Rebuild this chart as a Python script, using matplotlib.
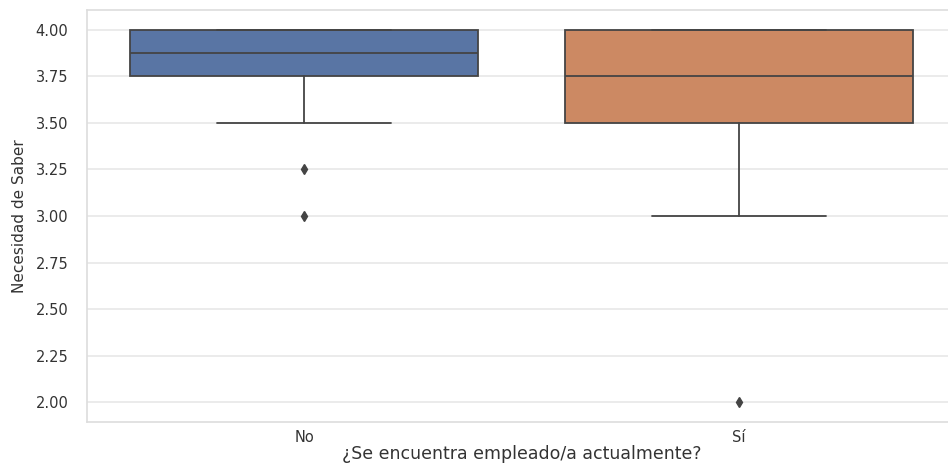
import matplotlib
matplotlib.use("Agg")
import matplotlib.pyplot as plt
import seaborn as sns

# resumen de cuartiles por grupo
grupos = ["No", "Sí"]
q1 = [3.75, 3.5]
mediana = [3.875, 3.75]
q3 = [4.0, 4.0]
bigote_inf = [3.5, 3.0]
bigote_sup = [4.0, 4.0]
atipicos = [[3.25, 3.0], [2.0]]

colores = ["#5975a4", "#cc8963"]

sns.set_style("whitegrid")
plt.rcParams["font.family"] = ["DejaVu Sans"]

fig = plt.figure(figsize=(9.48, 4.66), dpi=100)
ax = fig.add_axes([86.5 / 948, 44 / 466, 870 / 948, 412 / 466])

stats = []
for i in range(len(grupos)):
    stats.append(dict(med=mediana[i], q1=q1[i], q3=q3[i],
                      whislo=bigote_inf[i], whishi=bigote_sup[i],
                      fliers=atipicos[i], label=grupos[i]))

gris = "#444444"
bp = ax.bxp(stats, positions=range(len(grupos)), widths=0.8, patch_artist=True,
            boxprops=dict(edgecolor=gris, linewidth=1.3),
            medianprops=dict(color=gris, linewidth=1.3),
            whiskerprops=dict(color=gris, linewidth=1.3),
            capprops=dict(color=gris, linewidth=1.3),
            capwidths=0.4,
            flierprops=dict(marker="d", markerfacecolor=gris, markeredgecolor=gris,
                            markersize=5))
for caja, c in zip(bp["boxes"], colores):
    caja.set_facecolor(c)

ax.set_xlim(-0.5, 1.5)
ax.set_ylim(1.8925, 4.1075)
ticks = [2.0, 2.25, 2.5, 2.75, 3.0, 3.25, 3.5, 3.75, 4.0]
ax.set_yticks(ticks)
ax.set_yticklabels([f"{v:.2f}" for v in ticks])
ax.grid(axis="y", color="#e8e8e8", linewidth=1.2)
ax.grid(axis="x", visible=False)
for s in ax.spines.values():
    s.set_color("#dddddd")
    s.set_linewidth(1.2)

ax.tick_params(axis="y", length=0, pad=13, labelsize=10.5, labelcolor="#333333")
ax.tick_params(axis="x", length=0, pad=6, labelsize=10.5, labelcolor="#333333")
ax.set_ylabel("Necesidad de Saber", fontsize=11, color="#333333", labelpad=6)
ax.set_xlabel("¿Se encuentra empleado/a actualmente?", fontsize=12.5, color="#333333", labelpad=0)

fig.savefig("out.png", dpi=100)
